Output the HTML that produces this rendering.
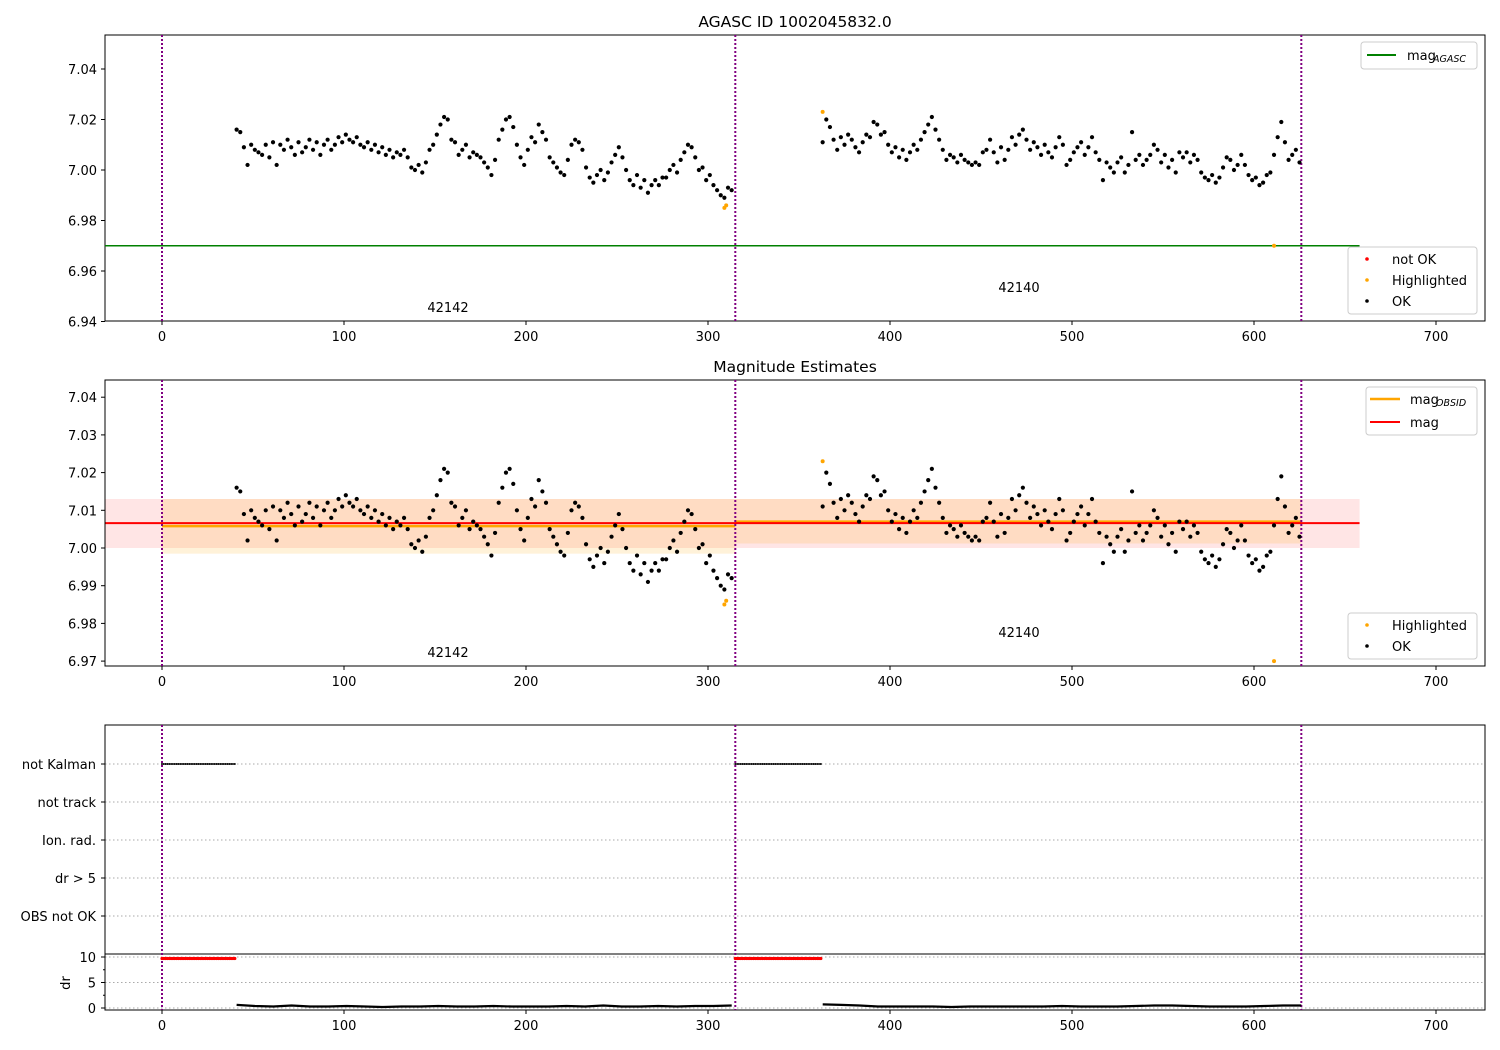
<!DOCTYPE html>
<html><head><meta charset="utf-8"><style>
body{margin:0;background:#fff;}
svg{display:block;font-family:"DejaVu Sans","Liberation Sans",sans-serif;}
</style></head><body>
<svg id="c" width="1500" height="1050" viewBox="0 0 1500 1050" xmlns="http://www.w3.org/2000/svg"></svg>
<script>
// ---- data ----
const xA0 = 41, xB0 = 363, step = 2;
const magA = [7.016,7.015,7.009,7.002,7.010,7.008,7.007,7.006,7.010,7.005,7.011,7.002,7.010,7.008,7.012,7.009,7.006,7.011,7.007,7.009,7.012,7.008,7.011,7.006,7.010,7.012,7.008,7.010,7.013,7.011,7.014,7.012,7.011,7.013,7.010,7.009,7.011,7.008,7.010,7.007,7.009,7.006,7.008,7.005,7.007,7.006,7.008,7.005,7.001,7.000,7.002,6.999,7.003,7.008,7.010,7.014,7.018,7.021,7.020,7.012,7.011,7.006,7.008,7.010,7.005,7.007,7.006,7.005,7.003,7.001,6.998,7.004,7.012,7.016,7.020,7.021,7.017,7.010,7.005,7.002,7.008,7.013,7.011,7.018,7.015,7.012,7.005,7.003,7.001,6.999,6.998,7.004,7.010,7.012,7.011,7.008,7.001,6.997,6.995,6.998,7.000,6.996,6.999,7.003,7.006,7.009,7.005,7.000,6.996,6.994,6.998,6.993,6.996,6.991,6.994,6.996,6.994,6.997,6.997,7.000,7.002,6.999,7.004,7.007,7.010,7.009,7.005,7.000,7.001,6.996,6.998,6.994,6.992,6.990,6.989,6.993,6.992];
const magB = [7.011,7.020,7.017,7.012,7.008,7.013,7.010,7.014,7.012,7.009,7.007,7.011,7.014,7.013,7.019,7.018,7.014,7.015,7.010,7.007,7.009,7.005,7.008,7.004,7.007,7.010,7.008,7.012,7.015,7.018,7.021,7.016,7.012,7.008,7.004,7.006,7.005,7.003,7.006,7.004,7.003,7.002,7.003,7.002,7.007,7.008,7.012,7.007,7.003,7.009,7.004,7.008,7.013,7.010,7.014,7.016,7.012,7.008,7.011,7.009,7.006,7.010,7.007,7.005,7.009,7.013,7.010,7.002,7.004,7.007,7.009,7.011,7.006,7.009,7.013,7.007,7.004,6.996,7.003,7.001,6.999,7.003,7.005,6.999,7.002,7.015,7.004,7.006,7.002,7.004,7.006,7.010,7.008,7.003,7.006,7.001,7.004,6.999,7.007,7.005,7.007,7.003,7.006,7.004,6.999,6.997,6.996,6.998,6.995,6.997,7.001,7.005,7.004,7.000,7.002,7.006,7.002,6.998,6.996,6.997,6.994,6.995,6.998,6.999,7.006,7.013,7.019,7.011,7.004,7.006,7.008,7.003];
const hiX = [309, 310, 363, 611];
const hiMag = [6.985, 6.986, 7.023, 6.970];
const magAgasc = 6.97;
const magMean = 7.0066, magLo = 7.000, magHi = 7.013;
const obsStart = [0, 315], obsEnd = [315, 626];
const obsMag = [7.0058, 7.0070], obsLo = [6.9985, 7.0012], obsHi = [7.013, 7.013];
const obsIds = ['42142', '42140'];
const kalStart = [0, 315], kalEnd = [40, 362];
const drKal = 9.7;
const drA = [0.6,0.4,0.3,0.5,0.3,0.3,0.4,0.3,0.2,0.3,0.3,0.4,0.3,0.3,0.4,0.3,0.3,0.3,0.4,0.3,0.5,0.3,0.3,0.4,0.3,0.4,0.4,0.5];
const drB = [0.7,0.6,0.5,0.3,0.3,0.3,0.3,0.2,0.3,0.3,0.3,0.3,0.3,0.4,0.3,0.3,0.3,0.4,0.5,0.5,0.4,0.3,0.3,0.3,0.4,0.5,0.5];
const flagLabels = ['not Kalman','not track','Ion. rad.','dr > 5','OBS not OK'];
const xTicks = [0,100,200,300,400,500,600,700];
const yTicksTop = [6.94,6.96,6.98,7.00,7.02,7.04];
const yTicksMid = [6.97,6.98,6.99,7.00,7.01,7.02,7.03,7.04];
const drTicks = [0,5,10];

// ---- scales ----
const sx = u => 162 + 1.82*u;
const yT = v => 170 + (7.00 - v)*2525;
const yM = v => 548 + (7.00 - v)*3770;
const yD = v => 1008 - v*5.1;
const yF = i => 764 + i*38;
const L = 105, R = 1485;

const svg = document.getElementById('c');
const NS = 'http://www.w3.org/2000/svg';
function el(tag, at, parent){
  const e = document.createElementNS(NS, tag);
  for (const k in at) e.setAttribute(k, at[k]);
  (parent||svg).appendChild(e); return e;
}
function txt(s, x, y, at, parent){ const t = el('text', Object.assign({x:x,y:y,'font-size':13,fill:'#000'}, at||{}), parent); t.textContent = s; return t; }

function xAxis(g, bottom){
  xTicks.forEach(t=>{
    el('line',{x1:sx(t),x2:sx(t),y1:bottom,y2:bottom+4,stroke:'#000'},g);
    const l = txt(String(t), sx(t), bottom+20, {'text-anchor':'middle'}, g);
    
    
  });
}
function vlines(g, top, bottom){
  [0,315,626].forEach(u=>{
    el('line',{x1:sx(u),x2:sx(u),y1:top,y2:bottom,stroke:'#800080','stroke-width':2,'stroke-dasharray':'2,2'},g);
  });
}
function dots(g, xs0, arr, yfun, color, r){
  arr.forEach((v,i)=>{
    const c = el('circle',{cx:sx(xs0+i*step),cy:yfun(v),r:r||2.1,fill:color},g);
    
    
  });
}
function legendBox(g, x, y, w, h){ el('rect',{x:x,y:y,width:w,height:h,rx:3,fill:'#fff','fill-opacity':0.8,stroke:'#ccc'},g); }

// ===== TOP PANEL =====
const gT = el('g',{});
el('rect',{x:L,y:35,width:R-L,height:286,fill:'none',stroke:'#000'},gT);
txt('AGASC ID 1002045832.0', 795, 27, {'text-anchor':'middle','font-size':15.5,}, gT);
yTicksTop.forEach(t=>{
  el('line',{x1:L-4,x2:L,y1:yT(t),y2:yT(t),stroke:'#000'},gT);
  txt(t.toFixed(2), L-8, yT(t)+5, {'text-anchor':'end',}, gT);
});
xAxis(gT, 321);
el('line',{x1:L,x2:sx(658),y1:yT(magAgasc),y2:yT(magAgasc),stroke:'#008000','stroke-width':1.5,},gT);
vlines(gT, 35, 321);
dots(gT, xA0, magA, yT, '#000');
dots(gT, xB0, magB, yT, '#000');
hiX.forEach((u,i)=>el('circle',{cx:sx(u),cy:yT(hiMag[i]),r:2,fill:'orange',},gT));
txt(obsIds[0], 448, 312, {'text-anchor':'middle',}, gT);
txt(obsIds[1], 1019, 292, {'text-anchor':'middle',}, gT);
const lg1 = el('g',{},gT);
legendBox(lg1, 1361, 42, 116, 27);
el('line',{x1:1367,x2:1396,y1:55,y2:55,stroke:'#008000','stroke-width':2},lg1);
txt('mag', 1407, 60, {}, lg1); txt('AGASC', 1433, 62, {'font-size':9.5,'font-style':'italic'}, lg1);
const lg2 = el('g',{},gT);
legendBox(lg2, 1348, 247, 129, 67);
[['not OK','red'],['Highlighted','orange'],['OK','#000']].forEach((p,i)=>{
  el('circle',{cx:1367,cy:259+i*21,r:1.8,fill:p[1]},lg2);
  txt(p[0], 1392, 264+i*21, {}, lg2);
});

// ===== MIDDLE PANEL =====
const gM = el('g',{});
el('rect',{x:L,y:yM(magHi),width:sx(658)-L,height:yM(magLo)-yM(magHi),fill:'red','fill-opacity':0.1,},gM);
obsStart.forEach((s,i)=>{
  el('rect',{x:sx(s),y:yM(obsHi[i]),width:sx(obsEnd[i])-sx(s),height:yM(obsLo[i])-yM(obsHi[i]),fill:'orange','fill-opacity':0.15,},gM);
  el('line',{x1:sx(s),x2:sx(obsEnd[i]),y1:yM(obsMag[i]),y2:yM(obsMag[i]),stroke:'orange','stroke-width':2.5,},gM);
});
el('line',{x1:L,x2:sx(658),y1:yM(magMean),y2:yM(magMean),stroke:'red','stroke-width':2,},gM);
el('rect',{x:L,y:380,width:R-L,height:286,fill:'none',stroke:'#000'},gM);
txt('Magnitude Estimates', 795, 372, {'text-anchor':'middle','font-size':15.5,}, gM);
yTicksMid.forEach(t=>{
  el('line',{x1:L-4,x2:L,y1:yM(t),y2:yM(t),stroke:'#000'},gM);
  txt(t.toFixed(2), L-8, yM(t)+5, {'text-anchor':'end',}, gM);
});
xAxis(gM, 666);
vlines(gM, 380, 666);
dots(gM, xA0, magA, yM, '#000');
dots(gM, xB0, magB, yM, '#000');
hiX.forEach((u,i)=>el('circle',{cx:sx(u),cy:yM(hiMag[i]),r:2,fill:'orange',},gM));
txt(obsIds[0], 448, 657, {'text-anchor':'middle',}, gM);
txt(obsIds[1], 1019, 637, {'text-anchor':'middle',}, gM);
const lg3 = el('g',{},gM);
legendBox(lg3, 1366, 387, 111, 48);
el('line',{x1:1370,x2:1400,y1:399,y2:399,stroke:'orange','stroke-width':2.5},lg3);
txt('mag', 1410, 404, {}, lg3); txt('OBSID', 1436, 406, {'font-size':9.5,'font-style':'italic'}, lg3);
el('line',{x1:1370,x2:1400,y1:422,y2:422,stroke:'red','stroke-width':2},lg3);
txt('mag', 1410, 427, {}, lg3);
const lg4 = el('g',{},gM);
legendBox(lg4, 1348, 613, 129, 46);
[['Highlighted','orange'],['OK','#000']].forEach((p,i)=>{
  el('circle',{cx:1367,cy:625+i*21,r:1.8,fill:p[1]},lg4);
  txt(p[0], 1392, 630+i*21, {}, lg4);
});

// ===== BOTTOM PANEL =====
const gB = el('g',{});
flagLabels.forEach((f,i)=>{
  el('line',{x1:L,x2:R,y1:yF(i),y2:yF(i),stroke:'#aaa','stroke-dasharray':'1.5,2.5'},gB);
  el('line',{x1:L-4,x2:L,y1:yF(i),y2:yF(i),stroke:'#000'},gB);
  txt(f, L-9, yF(i)+5, {'text-anchor':'end',}, gB);
});
drTicks.forEach(t=>{
  el('line',{x1:L,x2:R,y1:yD(t),y2:yD(t),stroke:'#aaa','stroke-dasharray':'1.5,2.5'},gB);
  el('line',{x1:L-4,x2:L,y1:yD(t),y2:yD(t),stroke:'#000'},gB);
  txt(String(t), L-9, yD(t)+5, {'text-anchor':'end',}, gB);
});
[2.5,7.5].forEach(t=>el('line',{x1:L-2,x2:L,y1:yD(t),y2:yD(t),stroke:'#000'},gB));
txt('dr', 70, 983, {'text-anchor':'middle','transform':'rotate(-90 70 983)',}, gB);
el('rect',{x:L,y:725,width:R-L,height:285,fill:'none',stroke:'#000'},gB);
el('line',{x1:L,x2:R,y1:954,y2:954,stroke:'#000'},gB);
xAxis(gB, 1010);
vlines(gB, 725, 1010);
kalStart.forEach((s,i)=>{
  for(let u=s; u<=kalEnd[i]; u++){
    const a = el('circle',{cx:sx(u),cy:yF(0),r:1,fill:'#000'},gB);
    
    
    const b = el('circle',{cx:sx(u),cy:yD(drKal),r:1.6,fill:'red'},gB);
    
    
  }
});
function drLine(x0, x1, arr){
  const pts = arr.map((v,i)=> sx(x0 + (x1-x0)*i/(arr.length-1)).toFixed(1)+','+yD(v).toFixed(1)).join(' ');
  const p = el('polyline',{points:pts,fill:'none',stroke:'#000','stroke-width':2.2},gB);
  
  
}
drLine(41, 313, drA);
drLine(363, 626, drB);
</script>
</body></html>
